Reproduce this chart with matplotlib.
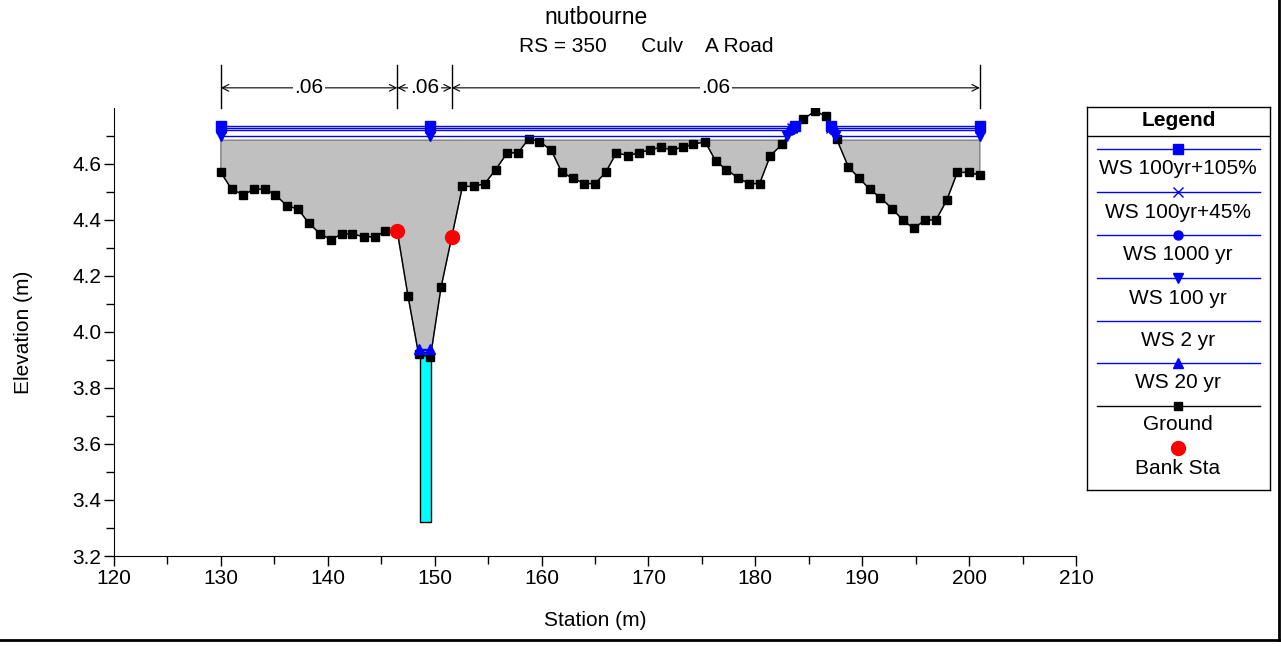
import numpy as np
import matplotlib
matplotlib.use("Agg")
import matplotlib.pyplot as plt
from matplotlib.patches import Rectangle
from matplotlib.lines import Line2D

plt.rcParams['font.family'] = ['Liberation Sans', 'DejaVu Sans']

# ---------------- data ----------------
ground_sta = [130.0, 131.0, 132.1, 133.1, 134.1, 135.1, 136.2, 137.2, 138.2, 139.3,
              140.3, 141.3, 142.3, 143.4, 144.4, 145.4, 146.5, 147.5, 148.5, 149.6,
              150.6, 151.6, 152.6, 153.7, 154.7, 155.7, 156.8, 157.8, 158.8, 159.8,
              160.9, 161.9, 162.9, 164.0, 165.0, 166.0, 167.0, 168.1, 169.1, 170.1,
              171.2, 172.2, 173.2, 174.2, 175.3, 176.3, 177.3, 178.4, 179.4, 180.4,
              181.4, 182.5, 183.5, 184.5, 185.6, 186.6, 187.6, 188.7, 189.7, 190.7,
              191.7, 192.8, 193.8, 194.8, 195.9, 196.9, 197.9, 198.9, 200.0, 201.0]
ground_elev = [4.57, 4.51, 4.49, 4.51, 4.51, 4.49, 4.45, 4.44, 4.39, 4.35,
               4.33, 4.35, 4.35, 4.34, 4.34, 4.36, 4.36, 4.13, 3.92, 3.91,
               4.16, 4.34, 4.52, 4.52, 4.53, 4.58, 4.64, 4.64, 4.69, 4.68,
               4.65, 4.57, 4.55, 4.53, 4.53, 4.57, 4.64, 4.63, 4.64, 4.65,
               4.66, 4.65, 4.66, 4.67, 4.68, 4.61, 4.58, 4.55, 4.53, 4.53,
               4.63, 4.67, 4.73, 4.76, 4.79, 4.77, 4.69, 4.59, 4.55, 4.51,
               4.48, 4.44, 4.40, 4.37, 4.40, 4.40, 4.47, 4.57, 4.57, 4.56]

bank_sta = [146.5, 151.6]
bank_elev = [4.36, 4.34]

deck_elev = 4.685          # grey embankment top
culvert_left, culvert_right = 148.6, 149.65
culvert_invert, culvert_top = 3.32, 3.93

ws_names = ["WS 100yr+105%", "WS 100yr+45%", "WS 1000 yr", "WS 100 yr", "WS 2 yr", "WS 20 yr"]
ws_elev = [4.735, 4.728, 4.72, 4.70, 3.935, 3.94]
ws_markers = ['s', 'x', 'o', 'v', None, '^']
ws_high = [True, True, True, True, False, False]
ws_low_sta = [148.5, 149.6]       # in-culvert water surface extent
ws_mark_sta = [130.0, 149.6, 201.0]

mann_breaks = [130.0, 146.5, 151.6, 201.0]
mann_n = [".06", ".06", ".06"]

title = "nutbourne"
subtitle = "RS = 350      Culv    A Road"

FS = 15

# ---------------- figure ----------------
W, H = 1281, 646
fig = plt.figure(figsize=(W / 100, H / 100), dpi=100)
ax = fig.add_axes([114 / W, 1 - 556 / H, (1076 - 114) / W, (556 - 108) / H])

gs = np.array(ground_sta)
ge = np.array(ground_elev)

# grey embankment fill
ax.fill_between(gs, ge, deck_elev, where=ge <= deck_elev, interpolate=True,
                facecolor='#C0C0C0', edgecolor='#7f7f7f', linewidth=1.0, zorder=1)

# culvert
ax.add_patch(Rectangle((culvert_left, culvert_invert), culvert_right - culvert_left,
                       culvert_top - culvert_invert, facecolor='#00FFFF',
                       edgecolor='black', linewidth=1.0, zorder=2))

# ground
ax.plot(gs, ge, color='black', lw=1.0, marker='s', ms=6, mec='black', mfc='black', zorder=3)


def crossings(level):
    # stations where ground crosses level on the central ridge
    d = ge - level
    out = []
    for i in range(len(gs) - 1):
        if gs[i] > 175 and d[i] * d[i + 1] < 0:
            t = d[i] / (d[i] - d[i + 1])
            out.append(gs[i] + t * (gs[i + 1] - gs[i]))
    return out


def msize(mk):
    return 7 if mk == 'x' else 6.5


for name, el, mk, high in zip(ws_names, ws_elev, ws_markers, ws_high):
    if high:
        c = crossings(el)
        xl, xr = c[0], c[-1]
        ax.plot([gs[0], xl], [el, el], color='#0000FF', lw=1.0, zorder=4)
        ax.plot([xr, gs[-1]], [el, el], color='#0000FF', lw=1.0, zorder=4)
        mx = [ws_mark_sta[0], ws_mark_sta[1], xl, xr, ws_mark_sta[2]]
    else:
        ax.plot(ws_low_sta, [el, el], color='#0000FF', lw=1.0, zorder=4)
        mx = ws_low_sta
    if mk is not None:
        ax.plot(mx, [el] * len(mx), ls='none', marker=mk, ms=msize(mk),
                color='#0000FF', mec='#0000FF', mfc='#0000FF', zorder=5)

ax.plot(bank_sta, bank_elev, ls='none', marker='o', ms=10, color='#FF0000', zorder=6)

ax.set_xlim(120, 210)
ax.set_ylim(3.2, 4.8)
ax.set_xticks(np.arange(120, 211, 10))
ax.set_xticks(np.arange(125, 210, 10), minor=True)
ax.set_yticks(np.arange(3.2, 4.61, 0.2))
ax.set_yticks(np.arange(3.3, 4.8, 0.2), minor=True)
ax.set_yticklabels([f"{v:.1f}" for v in np.arange(3.2, 4.61, 0.2)])
ax.tick_params(which='major', direction='out', length=7, width=1, labelsize=FS, pad=2)
ax.tick_params(which='minor', direction='out', length=6, width=1)
for s in ['top', 'right']:
    ax.spines[s].set_visible(False)
ax.set_xlabel("Station (m)", fontsize=FS, labelpad=17)
ax.set_ylabel("Elevation (m)", fontsize=FS, labelpad=28)

# titles
fig.text(596 / W, 1 - 18 / H, title, ha='center', va='center', fontsize=16.5)
fig.text(646 / W, 1 - 47 / H, subtitle, ha='center', va='center', fontsize=FS)

# Manning's n bar
trans = ax.get_xaxis_transform()
for b in mann_breaks:
    ax.plot([b, b], [1.0, 1.096], transform=trans, color='black', lw=1.0, clip_on=False)
for i, n in enumerate(mann_n):
    a, b = mann_breaks[i], mann_breaks[i + 1]
    ax.annotate("", xy=(a, 1.045), xytext=(b, 1.045), xycoords=trans, textcoords=trans,
                arrowprops=dict(arrowstyle='<->', color='black', lw=0.8,
                                shrinkA=0, shrinkB=0, mutation_scale=12),
                annotation_clip=False)
    ax.text((a + b) / 2, 1.045, n, transform=trans, ha='center', va='center', fontsize=FS,
            bbox=dict(facecolor='white', edgecolor='none', pad=1.0), clip_on=False, zorder=10)

# legend panel
lx0, ly0, lx1, ly1 = 1087, 107, 1270, 490
lax = fig.add_axes([lx0 / W, 1 - ly1 / H, (lx1 - lx0) / W, (ly1 - ly0) / H])
lax.set_xlim(lx0, lx1)
lax.set_ylim(ly1, ly0)
lax.set_xticks([])
lax.set_yticks([])
for s in lax.spines.values():
    s.set_linewidth(1.0)
lax.text((lx0 + lx1) / 2, 121, "Legend", ha='center', va='center', fontsize=FS, fontweight='bold')
lax.plot([lx0, lx1], [136, 136], color='black', lw=1.0)

line_y = [149, 192, 235, 278, 321, 363]
for name, mk, yy in zip(ws_names, ws_markers, line_y):
    lax.plot([1097, 1260], [yy, yy], color='#0000FF', lw=1.0)
    if mk is not None:
        lax.plot([1178], [yy], marker=mk, ms=msize(mk), color='#0000FF')
    lax.text(1178, yy + 20, name, ha='center', va='center', fontsize=FS)
lax.plot([1097, 1260], [406, 406], color='black', lw=1.0)
lax.plot([1178], [406], marker='s', ms=6, color='black')
lax.text(1178, 425, "Ground", ha='center', va='center', fontsize=FS)
lax.plot([1178], [448], marker='o', ms=10, color='#FF0000')
lax.text(1178, 468, "Bank Sta", ha='center', va='center', fontsize=FS)

# figure frame
fig.add_artist(Line2D([1279 / W, 1279 / W], [1 - 640 / H, 1], transform=fig.transFigure,
                      color='black', lw=2))
fig.add_artist(Line2D([0, 1279 / W], [1 - 640 / H, 1 - 640 / H], transform=fig.transFigure,
                      color='black', lw=2))

fig.savefig("out.png", dpi=100)
